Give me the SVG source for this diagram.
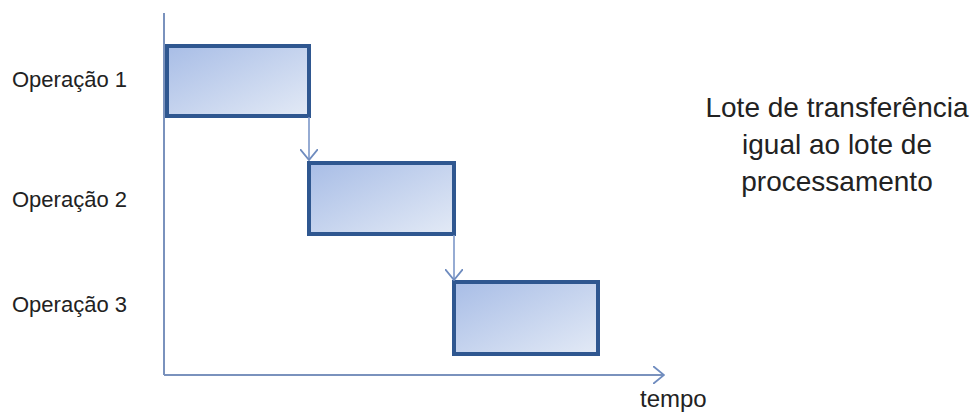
<svg xmlns="http://www.w3.org/2000/svg" width="973" height="412" viewBox="0 0 973 412">
  <defs>
    <linearGradient id="boxFill" x1="0" y1="0" x2="1" y2="1">
      <stop offset="0" stop-color="#a8bde6"/>
      <stop offset="1" stop-color="#e3eaf6"/>
    </linearGradient>
    <marker id="chev" viewBox="0 0 12 18" refX="11" refY="9" markerWidth="12" markerHeight="18" markerUnits="userSpaceOnUse" orient="auto">
      <path d="M0,0 L11,9 L0,18" fill="none" stroke="#6f8cbf" stroke-width="1.8"/>
    </marker>
  </defs>
  <style>
    .box { fill: url(#boxFill); stroke: #2f5790; stroke-width: 4; }
    .axis { fill: none; stroke: #7a92bd; stroke-width: 2; }
    .conn { fill: none; stroke: #7c97c8; stroke-width: 1.6; }
    .lbl { font-family: "Liberation Sans", Arial, sans-serif; font-size: 22px; fill: #222222; }
    .note { font-family: "Liberation Sans", Arial, sans-serif; font-size: 28px; fill: #222222; text-anchor: middle; }
  </style>
  <rect width="973" height="412" fill="#ffffff"/>
  <g id="axes">
    <path class="axis" d="M164,13 L164,375"/>
    <path class="axis" d="M164,375 L664,375" marker-end="url(#chev)"/>
  </g>
  <g id="op1">
    <rect class="box" x="167" y="46" width="142" height="70"/>
    <text class="lbl" x="12" y="87">Operação 1</text>
  </g>
  <g id="op2">
    <rect class="box" x="309" y="163" width="145" height="71"/>
    <text class="lbl" x="12" y="207">Operação 2</text>
  </g>
  <g id="op3">
    <rect class="box" x="454" y="282" width="144" height="72"/>
    <text class="lbl" x="12" y="312">Operação 3</text>
  </g>
  <g id="connectors">
    <path class="conn" d="M309,117 L309,160" marker-end="url(#chev)"/>
    <path class="conn" d="M454,235 L454,280" marker-end="url(#chev)"/>
  </g>
  <g id="note">
    <text class="note" x="837" y="117">Lote de transferência</text>
    <text class="note" x="837" y="154">igual ao lote de</text>
    <text class="note" x="837" y="191">processamento</text>
  </g>
  <g id="xlabel">
    <text class="lbl" x="640" y="407" style="font-size:24px">tempo</text>
  </g>
</svg>
